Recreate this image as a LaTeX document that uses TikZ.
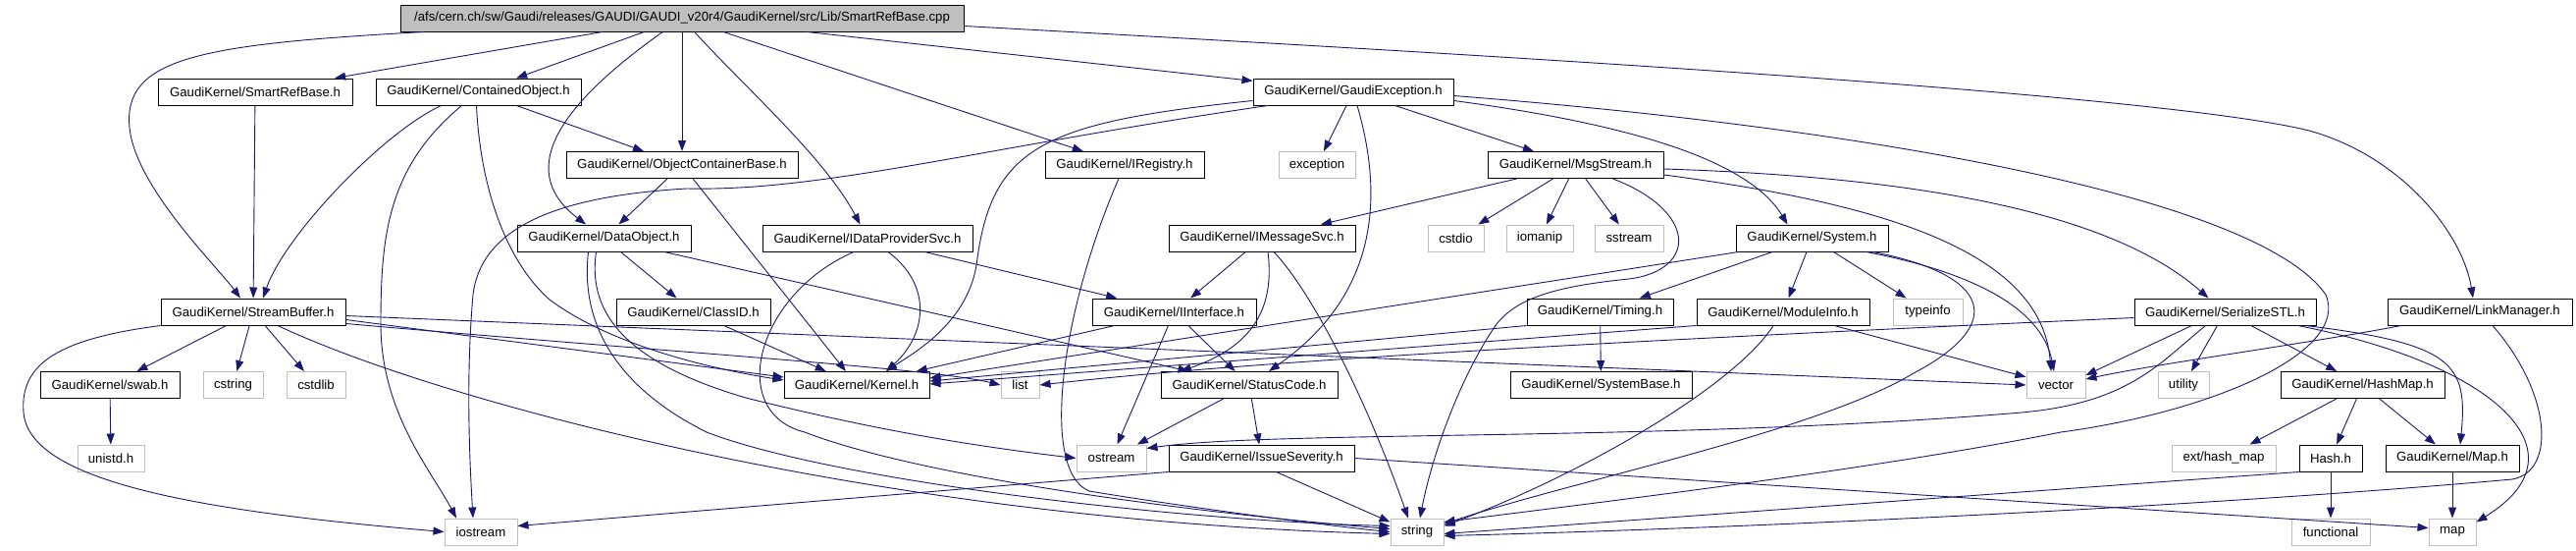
\documentclass[tikz,border=0pt]{standalone}
\usepackage{fontspec}
\setmainfont{Liberation Sans}
\usetikzlibrary{arrows.meta,calc}
\definecolor{edgec}{RGB}{25,25,112}
\definecolor{grayb}{RGB}{191,191,191}
\begin{document}
\begin{tikzpicture}[x=1pt,y=-1pt,
  every node/.style={font=\fontsize{13.2}{15}\selectfont},
  nb/.style={draw=black,line width=1pt,minimum height=27pt,inner sep=0pt},
  sb/.style={draw=grayb,line width=1pt,minimum height=27pt,inner sep=0pt},
  rb/.style={draw=black,fill=grayb,line width=1pt,minimum height=27pt,inner sep=0pt},
  dep/.style={draw=edgec,line width=0.9pt,-{Triangle[length=11pt,width=8pt]}}]
\fill[white] (0,0) rectangle (2625,560);
\useasboundingbox (0,0) rectangle (2625,560);
% row 0
\node[rb,minimum width=574pt] (root) at (695,18.5) {/afs/cern.ch/sw/Gaudi/releases/GAUDI/GAUDI\_v20r4/GaudiKernel/src/Lib/SmartRefBase.cpp};
% row 1
\node[nb,minimum width=198pt] (SmartRefBase) at (260,93.5) {GaudiKernel/SmartRefBase.h};
\node[nb,minimum width=209pt] (ContainedObject) at (487.5,93.5) {GaudiKernel/ContainedObject.h};
\node[nb,minimum width=204pt] (GaudiException) at (1379,93.5) {GaudiKernel/GaudiException.h};
% row 2
\node[nb,minimum width=236pt] (ObjectContainerBase) at (695,168) {GaudiKernel/ObjectContainerBase.h};
\node[nb,minimum width=162pt] (IRegistry) at (1146,168) {GaudiKernel/IRegistry.h};
\node[sb,minimum width=78pt] (exception) at (1342,168) {exception};
\node[nb,minimum width=179pt] (MsgStream) at (1605.5,168) {GaudiKernel/MsgStream.h};
% row 3
\node[nb,minimum width=177pt] (DataObject) at (615.5,242.5) {GaudiKernel/DataObject.h};
\node[nb,minimum width=214pt] (IDataProviderSvc) at (884,242.5) {GaudiKernel/IDataProviderSvc.h};
\node[nb,minimum width=190pt] (IMessageSvc) at (1286,242.5) {GaudiKernel/IMessageSvc.h};
\node[sb,minimum width=57pt] (cstdio) at (1483.5,242.5) {cstdio};
\node[sb,minimum width=68pt] (iomanip) at (1569,242.5) {iomanip};
\node[sb,minimum width=70pt] (sstream) at (1660,242.5) {sstream};
\node[nb,minimum width=155pt] (System) at (1846.5,242.5) {GaudiKernel/System.h};
% row 4
\node[nb,minimum width=188pt] (StreamBuffer) at (258,317.5) {GaudiKernel/StreamBuffer.h};
\node[nb,minimum width=157pt] (ClassID) at (706.5,317.5) {GaudiKernel/ClassID.h};
\node[nb,minimum width=167pt] (IInterface) at (1196.5,317.5) {GaudiKernel/IInterface.h};
\node[nb,minimum width=149pt] (Timing) at (1630.5,317.5) {GaudiKernel/Timing.h};
\node[nb,minimum width=176pt] (ModuleInfo) at (1817,317.5) {GaudiKernel/ModuleInfo.h};
\node[sb,minimum width=71pt] (typeinfo) at (1964.5,317.5) {typeinfo};
\node[nb,minimum width=185pt] (SerializeSTL) at (2267.5,317.5) {GaudiKernel/SerializeSTL.h};
\node[nb,minimum width=188pt] (LinkManager) at (2527,317.5) {GaudiKernel/LinkManager.h};
% row 5
\node[nb,minimum width=142pt] (swab) at (112,392) {GaudiKernel/swab.h};
\node[sb,minimum width=61pt] (cstring) at (237.5,392) {cstring};
\node[sb,minimum width=60pt] (cstdlib) at (322,392) {cstdlib};
\node[nb,minimum width=148pt] (Kernel) at (873,392) {GaudiKernel/Kernel.h};
\node[sb,minimum width=39pt] (list) at (1039.5,392) {list};
\node[nb,minimum width=180pt] (StatusCode) at (1273,392) {GaudiKernel/StatusCode.h};
\node[nb,minimum width=185pt] (SystemBase) at (1631.5,392) {GaudiKernel/SystemBase.h};
\node[sb,minimum width=60pt] (vector) at (2095,392) {vector};
\node[sb,minimum width=52pt] (utility) at (2225,392) {utility};
\node[nb,minimum width=167pt] (HashMap) at (2407.5,392) {GaudiKernel/HashMap.h};
% row 6
\node[sb,minimum width=68pt] (unistd) at (113,466.5) {unistd.h};
\node[sb,minimum width=71pt] (ostream) at (1132.5,466.5) {ostream};
\node[nb,minimum width=189pt] (IssueSeverity) at (1285.5,466.5) {GaudiKernel/IssueSeverity.h};
\node[sb,minimum width=106pt] (exthashmap) at (2266,466.5) {ext/hash\_map};
\node[nb,minimum width=64pt] (Hash) at (2375,466.5) {Hash.h};
\node[nb,minimum width=136pt] (Map) at (2499,466.5) {GaudiKernel/Map.h};
% row 7
\node[sb,minimum width=74pt] (iostream) at (490,541.5) {iostream};
\node[sb,minimum width=54pt] (string) at (1444,541.5) {string};
\node[sb,minimum width=80pt] (functional) at (2375,541.5) {functional};
\node[sb,minimum width=48pt] (map) at (2499,541.5) {map};

% root
\draw[dep] (root) -- (SmartRefBase);
\draw[dep] ([xshift=25pt]root.south west) .. controls (200,45) and (125,60) .. (132,130) .. controls (138,190) and (220,270) .. ([xshift=-13pt]StreamBuffer.north);
\draw[dep] (root) -- (ContainedObject);
\draw[dep] (root) .. controls (580,100) and (520,170) .. (DataObject);
\draw[dep] (root) -- (ObjectContainerBase);
\draw[dep] (root) .. controls (760,90) and (840,160) .. (IDataProviderSvc);
\draw[dep] (root) -- (IRegistry);
\draw[dep] (root) -- (GaudiException);
\draw[dep] ([yshift=-8pt]root.east) .. controls (1500,55) and (2200,95) .. (2353,133) .. controls (2450,160) and (2510,240) .. ([xshift=-7pt]LinkManager.north);
% SmartRefBase
\draw[dep] (SmartRefBase) -- (StreamBuffer);
% ContainedObject
\draw[dep] ([xshift=67pt]ContainedObject.south west) .. controls (390,135) and (290,240) .. ([xshift=10pt]StreamBuffer.north);
\draw[dep] ([xshift=-17pt]ContainedObject.south) .. controls (395,170) and (388,240) .. (388,330) .. controls (388,420) and (440,480) .. ([xshift=-25pt]iostream.north);
\draw[dep] (ContainedObject) -- (ObjectContainerBase);
\draw[dep] ([xshift=-2pt]ContainedObject.south) .. controls (490,200) and (520,270) .. (560,305) .. controls (620,350) and (720,375) .. ([yshift=5pt]Kernel.west);
% ObjectContainerBase
\draw[dep] (ObjectContainerBase) -- (DataObject);
\draw[dep] (ObjectContainerBase) -- (Kernel);
% DataObject
\draw[dep] (DataObject) -- (ClassID);
\draw[dep] (DataObject) -- (StatusCode);
\draw[dep] ([xshift=-8pt]DataObject.south) .. controls (598,320) and (640,370) .. (760,405) .. controls (900,440) and (1000,455) .. (ostream.west);
\draw[dep] ([xshift=-16pt]DataObject.south) .. controls (590,340) and (640,400) .. (720,440) .. controls (850,490) and (1200,530) .. ([yshift=6pt]string.west);
% ClassID
\draw[dep] (ClassID) -- (Kernel);
% IDataProviderSvc
\draw[dep] (IDataProviderSvc) -- (IInterface);
\draw[dep] ([xshift=21pt]IDataProviderSvc.south) .. controls (950,290) and (945,340) .. ([xshift=30pt]Kernel.north);
\draw[dep] ([xshift=-14pt]IDataProviderSvc.south) .. controls (770,300) and (740,420) .. (820,440) .. controls (950,490) and (1250,525) .. ([yshift=3pt]string.west);
% IRegistry
\draw[dep] (IRegistry) .. controls (1080,320) and (1060,480) .. (1110,500) .. controls (1200,515) and (1350,535) .. (string.west);
% GaudiException
\draw[dep] (GaudiException) -- (exception);
\draw[dep] ([xshift=4pt]GaudiException.south) .. controls (1410,200) and (1405,300) .. ([xshift=20pt]StatusCode.north);
\draw[dep] (GaudiException) -- (MsgStream);
\draw[dep] ([yshift=-9pt]GaudiException.east) .. controls (1650,125) and (1780,160) .. ([xshift=-25pt]System.north);
\draw[dep] ([yshift=-4pt]GaudiException.east) .. controls (1900,130) and (2300,200) .. (2370,300) .. controls (2395,360) and (2250,420) .. (2100,440) .. controls (1900,480) and (1600,515) .. ([yshift=10pt]string.east);
\draw[dep] ([yshift=-9pt]GaudiException.west) .. controls (1060,125) and (1010,150) .. (995,270) .. controls (985,330) and (930,360) .. ([xshift=30pt]Kernel.north);
\draw[dep] ([xshift=-87pt]GaudiException.south) .. controls (1000,150) and (840,195) .. (700,192) .. controls (560,200) and (490,235) .. (482,300) .. controls (475,380) and (478,460) .. ([xshift=-8pt]iostream.north);
% MsgStream
\draw[dep] (MsgStream) -- (IMessageSvc);
\draw[dep] (MsgStream) -- (cstdio);
\draw[dep] (MsgStream) -- (iomanip);
\draw[dep] (MsgStream) -- (sstream);
\draw[dep] ([xshift=38pt]MsgStream.south) .. controls (1730,215) and (1730,275) .. (1660,284) .. controls (1580,292) and (1545,305) .. (1525,330) .. controls (1490,380) and (1460,460) .. ([xshift=3pt]string.north);
\draw[dep] ([yshift=-4pt]MsgStream.east) .. controls (1950,180) and (2150,215) .. ([xshift=-17pt]SerializeSTL.north);
\draw[dep] ([yshift=-10pt]MsgStream.east) .. controls (1900,205) and (2080,250) .. ([xshift=-5pt]vector.north);
% IMessageSvc
\draw[dep] (IMessageSvc) -- (IInterface);
\draw[dep] ([xshift=6pt]IMessageSvc.south) .. controls (1300,320) and (1270,355) .. ([xshift=-70pt]StatusCode.north);
\draw[dep] ([xshift=12pt]IMessageSvc.south) .. controls (1335,295) and (1390,400) .. ([xshift=-9pt]string.north);
% System
\draw[dep] (System) -- (Timing);
\draw[dep] (System) -- (ModuleInfo);
\draw[dep] (System) -- (typeinfo);
\draw[dep] ([xshift=55pt]System.south) .. controls (2000,275) and (2080,310) .. ([xshift=-2pt]vector.north);
\draw[dep] ([xshift=62pt]System.south) .. controls (2030,280) and (2045,330) .. (1950,380) .. controls (1850,440) and (1600,490) .. ([yshift=8pt]string.east);
\draw[dep] ([xshift=3pt]System.south west) -- ([yshift=7pt]Kernel.east);
% Timing
\draw[dep] (Timing) -- (SystemBase);
\draw[dep] (Timing.south west) -- ([yshift=4pt]Kernel.east);
% ModuleInfo
\draw[dep] (ModuleInfo.south west) -- ([yshift=1pt]Kernel.east);
\draw[dep] ([xshift=-10pt]ModuleInfo.south) .. controls (1770,390) and (1620,480) .. ([yshift=6pt]string.east);
\draw[dep] (ModuleInfo) -- (vector);
% StreamBuffer
\draw[dep] (StreamBuffer) -- (swab);
\draw[dep] (StreamBuffer) -- (cstring);
\draw[dep] (StreamBuffer) -- (cstdlib);
\draw[dep] (StreamBuffer.south west) .. controls (60,345) and (20,370) .. (24,420) .. controls (30,490) and (200,520) .. (iostream.west);
\draw[dep] ([xshift=25pt]StreamBuffer.south) .. controls (450,410) and (900,530) .. ([yshift=-2pt]string.west);
\draw[dep] ([yshift=-8pt]StreamBuffer.east) -- ([yshift=8pt]Kernel.west);
\draw[dep] ([yshift=-12pt]StreamBuffer.east) .. controls (700,360) and (950,375) .. (list.west);
\draw[dep] ([yshift=-4pt]StreamBuffer.east) -- (vector.west);
% swab
\draw[dep] (swab) -- (unistd);
% IInterface
\draw[dep] (IInterface) -- (Kernel);
\draw[dep] (IInterface) -- (ostream);
\draw[dep] (IInterface) -- (StatusCode);
% StatusCode
\draw[dep] (StatusCode) -- (ostream);
\draw[dep] (StatusCode) -- (IssueSeverity);
% IssueSeverity
\draw[dep] (IssueSeverity.south west) -- ([yshift=6pt]iostream.east);
\draw[dep] ([xshift=15pt]IssueSeverity.south) -- ([yshift=10pt]string.west);
\draw[dep] (IssueSeverity.east) -- ([yshift=4pt]map.west);
% SerializeSTL
\draw[dep] ([yshift=-6pt]SerializeSTL.west) .. controls (1700,345) and (1300,365) .. (list.east);
\draw[dep] ([xshift=-34pt]SerializeSTL.south) -- ([yshift=10pt]vector.east);
\draw[dep] (SerializeSTL) -- (utility);
\draw[dep] (SerializeSTL) -- (HashMap);
\draw[dep] ([xshift=82pt]SerializeSTL.south) .. controls (2500,350) and (2515,370) .. ([xshift=8pt]Map.north);
\draw[dep] ([xshift=74pt]SerializeSTL.south) .. controls (2540,370) and (2640,460) .. ([yshift=10pt]map.east);
\draw[dep] ([xshift=-20pt]SerializeSTL.south) .. controls (2200,370) and (2170,410) .. (2060,420) .. controls (1700,450) and (1300,438) .. ([yshift=10pt]ostream.east);
% HashMap
\draw[dep] (HashMap) -- (exthashmap);
\draw[dep] (HashMap) -- (Hash);
\draw[dep] (HashMap) -- (Map);
% Hash
\draw[dep] (Hash) -- (functional);
\draw[dep] (Hash.south west) -- ([yshift=-2pt]string.east);
% Map
\draw[dep] (Map) -- (map);
% LinkManager
\draw[dep] ([xshift=-80pt]LinkManager.south) .. controls (2350,350) and (2200,370) .. ([yshift=6pt]vector.east);
\draw[dep] ([xshift=13pt]LinkManager.south) .. controls (2600,400) and (2605,480) .. (2560,488) .. controls (2200,520) and (1700,540) .. ([yshift=-4pt]string.east);
\end{tikzpicture}
\end{document}
